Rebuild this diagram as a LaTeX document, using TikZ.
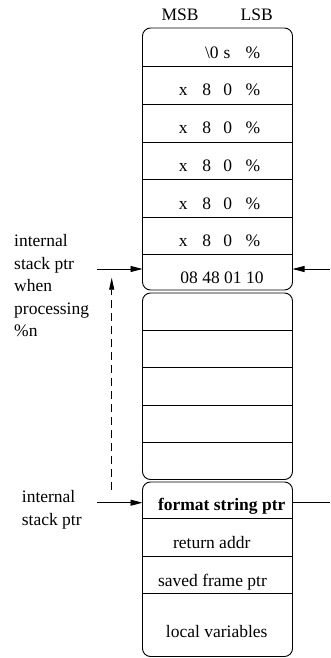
\documentclass[tikz,border=0pt]{standalone}
\usepackage{fontspec}
\setmainfont{Liberation Serif}
\usetikzlibrary{arrows.meta}
\begin{document}
\begin{tikzpicture}[x=1pt,y=-1pt,
  txt/.style={inner sep=0pt,font=\fontsize{17.5}{22.5}\selectfont},
  boxline/.style={line width=0.9pt,rounded corners=8pt},
  divider/.style={line width=0.8pt},
  ptrarrow/.style={line width=0.8pt,-{Triangle[length=12pt,width=6pt]}},
  dasharrow/.style={line width=0.8pt,dash pattern=on 8pt off 5pt,-{Triangle[length=12pt,width=5pt]}}]
\useasboundingbox (0,0) rectangle (330,658);
% boxes
\draw[boxline] (142.5,28) rectangle (292.5,290);
\draw[boxline] (142.5,293) rectangle (292.5,479.5);
\draw[boxline] (142.5,482) rectangle (292.5,656.5);
\foreach \y in {66,104,142,179.5,217,254,330,367,405,442,518.5,556,593}
  \draw[divider] (142.5,\y) -- (292.5,\y);
% header
\node[txt,anchor=base] (msb) at (180,20.7) {MSB};
\node[txt,anchor=base] (lsb) at (256.7,20.7) {LSB};
% box 1 contents
\node[txt,anchor=base west] (r1) at (204.9,58.3) {\textbackslash 0\hspace{5pt}s\hspace{15pt}\%};
\foreach \n/\y in {2/96,3/134,4/171.5,5/209,6/246.5}
  \node[txt,anchor=base west] (r\n) at (178.6,\y) {x\hspace{14.9pt}8\hspace{12.3pt}0\hspace{13.4pt}\%};
\node[txt,anchor=base] (r7) at (222,283) {08 48 01 10};
% box 3 contents
\node[txt,anchor=base] (fsp) at (221.7,510) {\bfseries format string ptr};
\node[txt,anchor=base] (ret) at (211.7,548) {return addr};
\node[txt,anchor=base] (sfp) at (212.5,586) {saved frame ptr};
\node[txt,anchor=base] (loc) at (216.7,637.5) {local variables};
% left labels
\node[txt,anchor=base west] (la1) at (14,246.5) {internal};
\node[txt,anchor=base west] (la2) at (14,269) {stack ptr};
\node[txt,anchor=base west] (la3) at (14,291.5) {when};
\node[txt,anchor=base west] (la4) at (14,314) {processing};
\node[txt,anchor=base west] (la5) at (14,336.5) {\%n};
\node[txt,anchor=base west] (lb1) at (21.7,502.7) {internal};
\node[txt,anchor=base west] (lb2) at (21.7,525) {stack ptr};
% pointer coordinates
\coordinate (p1s) at (97,269);
\coordinate (p1e) at (142.5,269);
\coordinate (p1rs) at (330,269);
\coordinate (p1re) at (292.5,269);
\coordinate (p2s) at (97,502.7);
\coordinate (p2e) at (142.5,502.7);
\coordinate (p2rs) at (292.5,502.7);
\coordinate (p2re) at (330,502.7);
\coordinate (ds) at (111.7,490);
\coordinate (de) at (111.7,277.7);
\draw[ptrarrow] (p1s) -- (p1e);
\draw[ptrarrow] (p1rs) -- (p1re);
\draw[ptrarrow] (p2s) -- (p2e);
\draw[divider] (p2rs) -- (p2re);
\draw[dasharrow] (ds) -- (de);
\end{tikzpicture}
\end{document}
